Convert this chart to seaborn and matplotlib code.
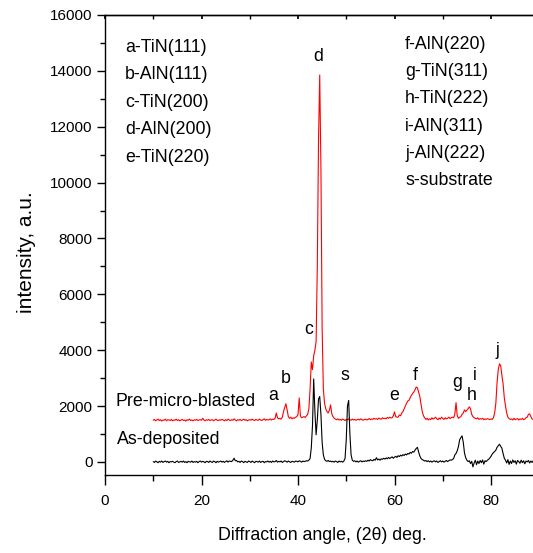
import matplotlib
matplotlib.use("Agg")
import matplotlib.pyplot as plt
import numpy as np
import pandas as pd
import seaborn as sns
from matplotlib.ticker import MultipleLocator

# scan: 10 deg to 89 deg, 0.25 deg step
START_2THETA = 10.0
STEP_2THETA = 0.25

pre_blasted = [
    1490, 1520, 1470, 1500, 1530, 1480, 1510, 1460,   # 10
    1500, 1490, 1530, 1470, 1510, 1500, 1480, 1520,   # 12
    1470, 1500, 1490, 1530, 1480, 1510, 1470, 1500,   # 14
    1520, 1480, 1500, 1460, 1510, 1490, 1530, 1480,   # 16
    1500, 1470, 1510, 1490, 1520, 1480, 1500, 1510,   # 18
    1490, 1560, 1500, 1470, 1510, 1490, 1520, 1480,   # 20
    1500, 1510, 1470, 1500, 1530, 1490, 1480, 1510,   # 22
    1490, 1520, 1500, 1470, 1510, 1480, 1530, 1500,   # 24
    1480, 1510, 1490, 1540, 1500, 1470, 1510, 1490,   # 26
    1520, 1480, 1500, 1530, 1490, 1510, 1470, 1500,   # 28
    1510, 1490, 1530, 1500, 1480, 1520, 1500, 1490,   # 30
    1530, 1500, 1480, 1510, 1540, 1490, 1520, 1500,   # 32
    1510, 1540, 1500, 1530, 1520, 1560, 1750, 1580,   # 34
    1540, 1560, 1530, 1600, 1800, 1950, 2080, 1850,   # 36
    1620, 1560, 1600, 1540, 1580, 1560, 1600, 1620,   # 38
    1700, 2290, 1640, 1580, 1600, 1620, 1590, 1650,   # 40
    1700, 1900, 2600, 3580, 3300, 3800, 4000, 4300,   # 42
    7000, 11500, 13850, 10500, 4800, 2600, 2100, 1900,  # 44
    1800, 1750, 1850, 2040, 1720, 1620, 1560, 1530,   # 46
    1510, 1540, 1500, 1520, 1490, 1530, 1510, 1480,   # 48
    1520, 1500, 1540, 1510, 1490, 1530, 1500, 1520,   # 50
    1490, 1510, 1530, 1500, 1540, 1510, 1490, 1520,   # 52
    1530, 1500, 1520, 1550, 1510, 1540, 1520, 1560,   # 54
    1530, 1550, 1520, 1570, 1540, 1530, 1580, 1550,   # 56
    1560, 1540, 1590, 1560, 1600, 1570, 1580, 1650,   # 58
    1790, 1620, 1600, 1600, 1680, 1650, 1750, 1800,   # 60
    1900, 2000, 2100, 2180, 2200, 2300, 2380, 2450,   # 62
    2500, 2580, 2680, 2650, 2500, 2340, 2050, 1800,   # 64
    1650, 1580, 1520, 1560, 1500, 1540, 1510, 1580,   # 66
    1530, 1560, 1600, 1540, 1510, 1570, 1530, 1600,   # 68
    1550, 1520, 1580, 1540, 1560, 1600, 1550, 1580,   # 70
    1600, 1580, 1700, 2120, 1650, 1560, 1600, 1620,   # 72
    1700, 1750, 1860, 1800, 1850, 1900, 1970, 1900,   # 74
    1700, 1620, 1580, 1560, 1540, 1580, 1520, 1550,   # 76
    1530, 1560, 1510, 1540, 1520, 1550, 1530, 1510,   # 78
    1540, 1520, 1580, 1750, 2100, 2830, 3300, 3510,   # 80
    3450, 3100, 2800, 2300, 2000, 1750, 1600, 1550,   # 82
    1520, 1540, 1500, 1560, 1510, 1530, 1550, 1500,   # 84
    1540, 1520, 1560, 1510, 1530, 1580, 1600, 1700,   # 86
    1720, 1620, 1540, 1520, 1530,                     # 88
]

as_deposited = [
    10, -20, 30, 0, -30, 20, -10, 30,          # 10
    -20, 10, 30, -10, 20, -30, 10, 0,          # 12
    20, -10, -30, 10, 30, -20, 0, 20,          # 14
    -10, 30, -20, 10, -30, 20, 0, -10,         # 16
    30, -20, 10, -10, 20, -30, 10, 30,         # 18
    -10, 20, 0, -30, 20, 10, -20, 30,          # 20
    0, -20, 30, 10, -30, 20, -10, 10,          # 22
    30, -10, 20, -20, 10, 40, -10, 30,         # 24
    20, 10, 60, 130, 40, 50, 0, 20,            # 26
    -20, 30, 10, -30, 20, 0, -20, 30,          # 28
    10, -20, 30, 0, -30, 20, 10, -10,          # 30
    30, -20, 10, 20, -30, 10, 0, 30,           # 32
    -10, 20, -20, 30, 0, 10, 50, -10,          # 34
    20, 0, 30, -20, 10, 40, 20, -10,           # 36
    30, 0, -20, 20, 10, -10, 30, 20,           # 38
    0, 40, 20, -10, 30, 10, 20, 40,            # 40
    30, 60, 120, 500, 1300, 2970, 1800, 970,   # 42
    1500, 2250, 2340, 1700, 700, 250, 90, 40,  # 44
    20, 50, 10, 30, 0, 20, -10, 30,            # 46
    10, -20, 30, 0, 20, -10, 30, 120,          # 48
    800, 2000, 2200, 1000, 250, 60, 20, 40,    # 50
    0, 30, -10, 20, 40, 0, 30, 10,             # 52
    40, 20, 60, 30, 80, 50, 40, 90,            # 54
    60, 150, 70, 100, 60, 110, 90, 130,        # 56
    100, 140, 110, 160, 120, 150, 180, 130,    # 58
    170, 200, 160, 220, 190, 240, 210, 260,    # 60
    230, 280, 250, 300, 280, 340, 310, 370,    # 62
    350, 420, 480, 520, 350, 210, 120, 80,     # 64
    60, 30, 50, 10, 40, 0, 30, -10,            # 66
    20, 40, 0, 30, -20, 10, 40, 0,             # 68
    30, -10, 20, 50, 10, 40, 70, 60,           # 70
    80, 120, 250, 300, 400, 550, 790, 870,     # 72
    930, 700, 320, 150, 60, 10, 40, -60,       # 74
    20, -180, -40, 60, -100, 30, -60, 50,      # 76
    -30, 70, -80, 40, 10, 60, 90, 140,         # 78
    200, 280, 330, 370, 420, 520, 580, 630,    # 80
    560, 490, 300, 130, 60, -40, 80, -90,      # 82
    30, -60, 70, -20, 40, -80, 50, 10,         # 84
    -50, 60, -30, 40, -70, 30, 0, 50,          # 86
    -40, 30, -20, 40, 10,                      # 88
]

peak_letters = ["a", "b", "c", "d", "s", "e", "f", "g", "h", "i", "j"]
peak_x = [34.8, 37.5, 42.3, 44.1, 49.7, 59.9, 64.2, 73.0, 75.9, 76.7, 81.3]
peak_y = [2360, 2970, 4750, 14500, 3110, 2360, 3080, 2830, 2360, 3080, 4000]

legend_left = ["a-TiN(111)", "b-AlN(111)", "c-TiN(200)", "d-AlN(200)", "e-TiN(220)"]
legend_right = ["f-AlN(220)", "g-TiN(311)", "h-TiN(222)", "i-AlN(311)",
                "j-AlN(222)", "s-substrate"]

x_ticks = [0, 20, 40, 60, 80]
y_ticks = [0, 2000, 4000, 6000, 8000, 10000, 12000, 14000, 16000]

TEXT_SIZE = 12.8
TICK_SIZE = 11


def build_frame(values, name):
    two_theta = START_2THETA + STEP_2THETA * np.arange(len(values))
    return pd.DataFrame({"two_theta": two_theta, "intensity": values, "sample": name})


def main():
    sns.set_theme(style="ticks")
    plt.rcParams["font.family"] = ["Liberation Sans", "DejaVu Sans"]
    plt.rcParams["text.color"] = "black"
    plt.rcParams["axes.labelcolor"] = "black"
    plt.rcParams["xtick.color"] = "black"
    plt.rcParams["ytick.color"] = "black"

    df = pd.concat([
        build_frame(pre_blasted, "Pre-micro-blasted"),
        build_frame(as_deposited, "As-deposited"),
    ], ignore_index=True)

    fig = plt.figure(figsize=(5.33, 5.53), dpi=100)
    ax = fig.add_axes([105 / 533, 1 - 475 / 553, 428 / 533, 460 / 553])

    sns.lineplot(data=df, x="two_theta", y="intensity", hue="sample",
                 palette={"Pre-micro-blasted": "#ff0000", "As-deposited": "#000000"},
                 linewidth=0.8, errorbar=None, legend=False, ax=ax)

    ax.set_xlim(0, 88.7)
    ax.set_ylim(-470, 16000)
    ax.set_xticks(x_ticks)
    ax.set_yticks(y_ticks)
    ax.xaxis.set_minor_locator(MultipleLocator(10))
    ax.yaxis.set_minor_locator(MultipleLocator(1000))
    ax.tick_params(axis="x", which="major", length=7, width=1, labelsize=TICK_SIZE, pad=7)
    ax.tick_params(axis="x", which="minor", length=4.3, width=1)
    ax.tick_params(axis="y", which="major", length=6, width=1, labelsize=TICK_SIZE, pad=3)
    ax.tick_params(axis="y", which="minor", length=3.6, width=1)
    for side in ["left", "bottom", "top"]:
        ax.spines[side].set_linewidth(1.0)
        ax.spines[side].set_color("black")
    ax.spines["right"].set_visible(False)

    top = ax.secondary_xaxis("top")
    top.set_xticks(x_ticks)
    top.xaxis.set_minor_locator(MultipleLocator(10))
    top.tick_params(which="both", direction="in", length=3, labeltop=False)
    top.spines["top"].set_linewidth(1.0)

    ax.set_xlabel("Diffraction angle, (2\u03b8) deg.", fontsize=TEXT_SIZE, va="center")
    ax.set_ylabel("intensity, a.u.", fontsize=15, va="center")
    ax.xaxis.set_label_coords((322 - 105) / 428, (475 - 535) / 460)
    ax.yaxis.set_label_coords((27 - 105) / 428, (475 - 252) / 460)

    ax.text(2.1, 2150, "Pre-micro-blasted", fontsize=TEXT_SIZE, va="center", ha="left")
    ax.text(2.5, 790, "As-deposited", fontsize=TEXT_SIZE, va="center", ha="left")

    for letter, x, y in zip(peak_letters, peak_x, peak_y):
        ax.text(x, y, letter, fontsize=TEXT_SIZE, ha="center", va="center")

    for i, label in enumerate(legend_left):
        ax.text(4.1, 14850 - i * 985, label, fontsize=TEXT_SIZE, va="center", ha="left")
    for i, label in enumerate(legend_right):
        ax.text(62.2, 14960 - i * 980, label, fontsize=TEXT_SIZE, va="center", ha="left")

    fig.savefig("out.png", dpi=100)


if __name__ == "__main__":
    main()
